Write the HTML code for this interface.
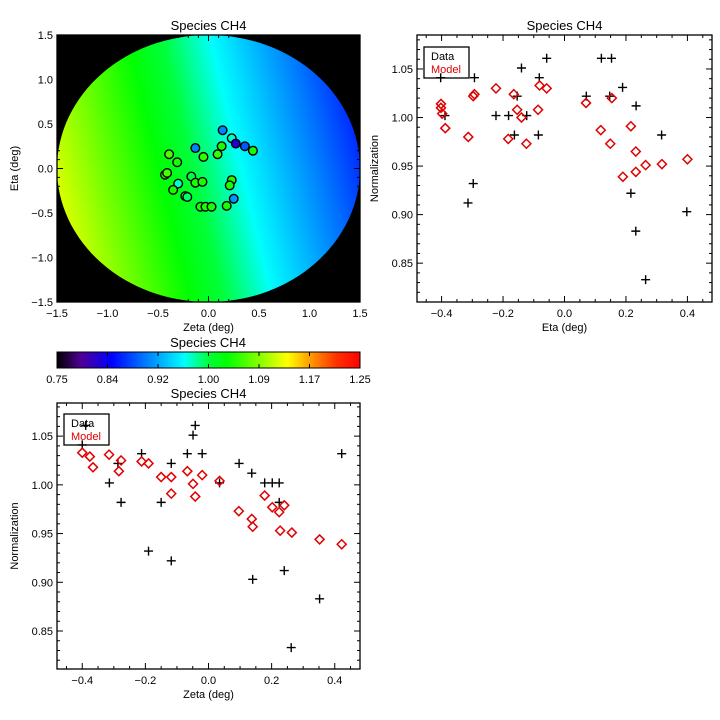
<!DOCTYPE html>
<html><head><meta charset="utf-8"><style>
html,body{margin:0;padding:0;background:#fff;}
svg{display:block;font-family:"Liberation Sans","DejaVu Sans",sans-serif;}
</style></head><body>
<svg id="fig" width="720" height="720" viewBox="0 0 720 720" xmlns="http://www.w3.org/2000/svg"></svg>
<script>
// ---- data ----
const mapZeta = [0.14,0.23,0.27,0.36,0.44,0.13,0.09,-0.13,-0.05,-0.39,-0.31,-0.43,-0.41,-0.17,-0.13,-0.06,-0.30,-0.35,-0.23,-0.21,0.23,0.21,0.25,0.18,-0.08,-0.03,0.03];
const mapEta  = [0.43,0.34,0.28,0.25,0.20,0.25,0.16,0.23,0.13,0.16,0.07,-0.07,-0.05,-0.09,-0.16,-0.15,-0.17,-0.24,-0.31,-0.32,-0.13,-0.19,-0.34,-0.42,-0.43,-0.43,-0.43];
const mapVal  = [0.90,0.97,0.82,0.88,1.04,1.04,1.05,0.90,1.05,1.06,1.04,1.06,1.06,1.00,1.04,1.04,0.97,1.04,1.04,0.99,1.04,1.04,0.91,1.04,1.04,1.04,1.04];
const cbTicks = ["0.75","0.84","0.92","1.00","1.09","1.17","1.25"];
const etaDataX = [-0.403,-0.389,-0.293,-0.297,-0.314,-0.223,-0.182,-0.163,-0.154,-0.140,-0.123,-0.082,-0.085,-0.058,0.071,0.120,0.153,0.147,0.189,0.233,0.216,0.232,0.264,0.316,0.398];
const etaDataY = [1.041,1.002,1.041,0.932,0.912,1.002,1.002,0.982,1.022,1.051,1.002,1.041,0.982,1.061,1.022,1.061,1.061,1.022,1.031,1.012,0.922,0.883,0.833,0.982,0.903];
const etaModelX = [-0.402,-0.402,-0.398,-0.388,-0.313,-0.297,-0.293,-0.223,-0.183,-0.165,-0.154,-0.140,-0.124,-0.086,-0.081,-0.058,0.070,0.118,0.149,0.154,0.190,0.216,0.232,0.232,0.264,0.317,0.400];
const etaModelY = [1.014,1.010,1.004,0.989,0.980,1.022,1.024,1.030,0.978,1.024,1.008,1.000,0.973,1.008,1.033,1.030,1.015,0.987,0.973,1.020,0.939,0.991,0.965,0.944,0.951,0.952,0.957];
const zetaDataX = [-0.400,-0.389,-0.287,-0.314,-0.277,-0.212,-0.190,-0.150,-0.118,-0.118,-0.067,-0.049,-0.042,-0.020,0.035,0.097,0.137,0.140,0.178,0.202,0.224,0.224,0.240,0.262,0.352,0.422];
const zetaDataY = [1.041,1.061,1.022,1.002,0.982,1.032,0.932,0.982,1.022,0.922,1.032,1.051,1.061,1.032,1.002,1.022,1.012,0.903,1.002,1.002,1.002,0.982,0.912,0.833,0.883,1.032];
const zetaModelX = [-0.400,-0.376,-0.366,-0.315,-0.284,-0.277,-0.212,-0.190,-0.150,-0.118,-0.118,-0.067,-0.049,-0.042,-0.020,0.035,0.096,0.137,0.140,0.178,0.202,0.224,0.240,0.227,0.264,0.352,0.422];
const zetaModelY = [1.033,1.029,1.018,1.031,1.014,1.025,1.024,1.022,1.008,1.008,0.991,1.014,1.001,0.988,1.010,1.004,0.973,0.965,0.957,0.989,0.977,0.972,0.979,0.953,0.951,0.944,0.939];

const NS="http://www.w3.org/2000/svg";
const svg=document.getElementById('fig');
function el(tag,attrs,parent){const e=document.createElementNS(NS,tag);for(const k in attrs)e.setAttribute(k,attrs[k]);(parent||svg).appendChild(e);return e;}
function txt(x,y,s,attrs,parent){const t=el('text',Object.assign({x:x,y:y,'font-size':11,fill:'#000','text-anchor':'middle'},attrs||{}),parent);t.textContent=s;return t;}

const cmapStops=[[0.75,[0,0,0]],[0.79,[80,0,150]],[0.84,[0,0,255]],[0.89,[0,110,255]],[0.96,[0,255,255]],[1.00,[0,255,60]],[1.03,[0,255,0]],[1.09,[150,255,0]],[1.13,[255,255,0]],[1.17,[255,150,0]],[1.21,[255,50,0]],[1.25,[255,0,0]]];
function cmap(v){v=Math.max(0.75,Math.min(1.25,v));for(let i=1;i<cmapStops.length;i++){if(v<=cmapStops[i][0]){const a=cmapStops[i-1],b=cmapStops[i];const f=(v-a[0])/(b[0]-a[0]);const c=a[1].map((q,j)=>Math.round(q+(b[1][j]-q)*f));return `rgb(${c[0]},${c[1]},${c[2]})`;}}return 'rgb(255,0,0)';}

function axes(g,L,T,R,B,xmin,xmax,ymin,ymax,xmaj,xmin2,ymaj,ymin2,xdec,ydec,xlab,ylab,title,name){
  const sx=v=>L+(v-xmin)/(xmax-xmin)*(R-L), sy=v=>B-(v-ymin)/(ymax-ymin)*(B-T);
  const fr=el('rect',{x:L,y:T,width:R-L,height:B-T,fill:'none',stroke:'#000','stroke-width':1.3},g);
  
  const tk=el('g',{stroke:'#000','stroke-width':1},g);
  
  const eps=1e-9;
  for(let v=Math.ceil(xmin/xmin2-eps)*xmin2;v<=xmax+eps;v+=xmin2){const maj=Math.abs(v/xmaj-Math.round(v/xmaj))<1e-6;const l=maj?6:3;const x=sx(v);
    el('line',{x1:x,y1:B,x2:x,y2:B-l},tk);el('line',{x1:x,y1:T,x2:x,y2:T+l},tk);
    if(maj){let s=v.toFixed(xdec);if(Math.abs(v)<1e-9)s=(0).toFixed(xdec);s=s.replace('-','\u2212');const t=txt(x,B+15,s,{},g);}}
  for(let v=Math.ceil(ymin/ymin2-eps)*ymin2;v<=ymax+eps;v+=ymin2){const maj=Math.abs(v/ymaj-Math.round(v/ymaj))<1e-6;const l=maj?6:3;const y=sy(v);
    el('line',{x1:L,y1:y,x2:L+l,y2:y},tk);el('line',{x1:R,y1:y,x2:R-l,y2:y},tk);
    if(maj){let s=v.toFixed(ydec);if(Math.abs(v)<1e-9)s=(0).toFixed(ydec);s=s.replace('-','\u2212');const t=txt(L-4,y+4,s,{'text-anchor':'end'},g);}}
  const xl=txt((L+R)/2,B+29,xlab,{},g);
  const yl=txt(0,0,ylab,{transform:`translate(${L-39},${(T+B)/2}) rotate(-90)`},g);
  const ti=txt((L+R)/2,T-5,title,{'font-size':13},g);
  return {sx,sy};
}

// ---- Map panel ----
const gm=el('g',{});
const mL=57,mT=35,mR=360,mB=302;
const msx=v=>mL+(v+1.5)/3*(mR-mL), msy=v=>mB-(v+1.5)/3*(mB-mT);
const bg=el('rect',{x:mL,y:mT,width:mR-mL,height:mB-mT,fill:'#000'},gm);

const defs=el('defs',{});
const nx=0.965,ny=0.262; // model gradient direction
const lg=el('linearGradient',{id:'mg',gradientUnits:'userSpaceOnUse',x1:msx(-1.6*nx),y1:msy(-1.6*ny),x2:msx(1.6*nx),y2:msy(1.6*ny)},defs);
for(let i=0;i<=20;i++){const s=-1.6+3.2*i/20;el('stop',{offset:i/20,'stop-color':cmap(0.988-0.085*s)},lg);}
const disk=el('ellipse',{cx:msx(0),cy:msy(0),rx:msx(1.5)-msx(0),ry:msy(0)-msy(1.5),fill:'url(#mg)'},gm);

for(let i=0;i<mapZeta.length;i++){const c=el('circle',{cx:msx(mapZeta[i]),cy:msy(mapEta[i]),r:4.3,fill:cmap(mapVal[i]),stroke:'#000','stroke-width':1.4},gm);
  }
axes(gm,mL,mT,mR,mB,-1.5,1.5,-1.5,1.5,0.5,0.1,0.5,0.1,1,1,'Zeta (deg)','Eta (deg)','Species CH4','map');

// ---- Colorbar ----
const gc=el('g',{});
const cg=el('linearGradient',{id:'cg',x1:0,y1:0,x2:1,y2:0},defs);
for(let i=0;i<=50;i++){el('stop',{offset:i/50,'stop-color':cmap(0.75+0.5*i/50)},cg);}
const cb=el('rect',{x:57,y:352,width:303,height:16,fill:'url(#cg)',stroke:'#000','stroke-width':1},gc);

cbTicks.forEach((s,i)=>{const x=57+303*i/(cbTicks.length-1);
  el('line',{x1:x,y1:352,x2:x,y2:356,stroke:'#000'},gc);el('line',{x1:x,y1:368,x2:x,y2:364,stroke:'#000'},gc);
  const t=txt(x,383,s,{},gc);});
const ct=txt(208,347,'Species CH4',{'font-size':13},gc);

function plus(g,x,y){const p=el('path',{d:`M${x-4.5},${y}H${x+4.5}M${x},${y-4.5}V${y+4.5}`,stroke:'#000','stroke-width':1.4,fill:'none'},g);}
function diamond(g,x,y){const p=el('path',{d:`M${x},${y-4.5}L${x+4.5},${y}L${x},${y+4.5}L${x-4.5},${y}Z`,stroke:'#e00000','stroke-width':1.5,fill:'none'},g);}
function legend(g,x,y){const r=el('rect',{x:x,y:y,width:45,height:31,fill:'#fff',stroke:'#000','stroke-width':1.3},g);
  const a=txt(x+7,y+13,'Data',{'text-anchor':'start'},g);
  const b=txt(x+7,y+26,'Model',{'text-anchor':'start',fill:'#e00000'},g);}

// ---- Eta scatter ----
const ge=el('g',{});
const ae=axes(ge,417,35,712,302,-0.48,0.48,0.81,1.085,0.2,0.05,0.05,0.01,1,2,'Eta (deg)','Normalization','Species CH4','eta-plot');
legend(ge,424,47);
etaDataX.forEach((v,i)=>plus(ge,ae.sx(v),ae.sy(etaDataY[i])));
etaModelX.forEach((v,i)=>diamond(ge,ae.sx(v),ae.sy(etaModelY[i])));

// ---- Zeta scatter ----
const gz=el('g',{});
const az=axes(gz,57,403,360,669,-0.48,0.48,0.811,1.084,0.2,0.05,0.05,0.01,1,2,'Zeta (deg)','Normalization','Species CH4','zeta-plot');
legend(gz,64,414);
zetaDataX.forEach((v,i)=>plus(gz,az.sx(v),az.sy(zetaDataY[i])));
zetaModelX.forEach((v,i)=>diamond(gz,az.sx(v),az.sy(zetaModelY[i])));
</script>
</body></html>
